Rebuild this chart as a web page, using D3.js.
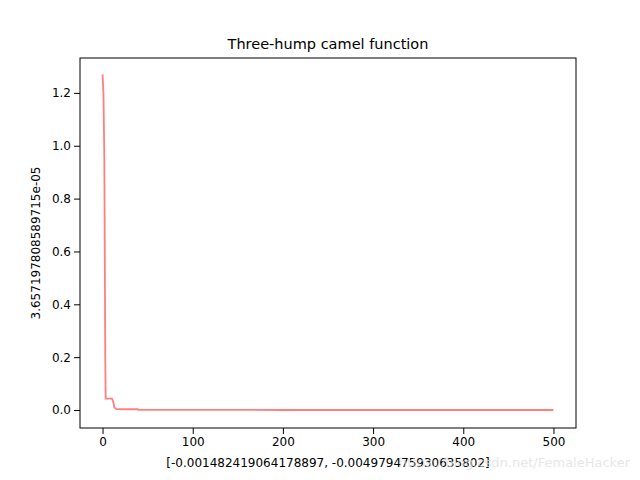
<!DOCTYPE html>
<html><head><meta charset="utf-8">
<script src="https://cdn.jsdelivr.net/npm/d3@7"></script>
<style>body{margin:0;background:#fff}text{font-family:"DejaVu Sans",sans-serif}</style>
</head><body><div id="chart"></div>
<script>
let iterX = [0,1,2,3,3.5,5,8,10.5,12,13,15,20,39,40,100,200,300,400,500]
let fitness = [1.27,1.2,0.95,0.2,0.043,0.043,0.043,0.043,0.03,0.01,0.004,0.003,0.003,0.0005,0.0003,0.0002,0.0001,0.0001,0.0001]

let width = 640, height = 480
let margin = {top:58, right:64, bottom:52, left:80}

let svg = d3.select('#chart').append('svg')
    .attr('width', width).attr('height', height)

let x = d3.scaleLinear().domain([-25, 525]).range([margin.left, width-margin.right])
let y = d3.scaleLinear().domain([-0.068, 1.332]).range([height-margin.bottom, margin.top])

svg.append('g')
    .attr('transform', "translate(0,"+(height-margin.bottom)+")")
    .call(d3.axisBottom(x).tickValues([0,100,200,300,400,500]).tickSizeOuter(0))
svg.append('g')
    .attr('transform', "translate("+margin.left+",0)")
    .call(d3.axisLeft(y).tickValues([0,0.2,0.4,0.6,0.8,1.0,1.2]).tickFormat(d3.format('.1f')).tickSizeOuter(0))
svg.selectAll('.tick text').attr('font-size', 12).attr('fill', '#000')
svg.selectAll('.tick line').attr('stroke', '#000')
svg.selectAll('.domain').remove()

svg.append('rect')
    .attr('x', margin.left).attr('y', margin.top)
    .attr('width', width-margin.left-margin.right).attr('height', height-margin.top-margin.bottom)
    .attr('fill', 'none').attr('stroke', '#000')

svg.append('path')
    .datum(iterX.map((d,i) => [d, fitness[i]]))
    .attr('fill', 'none').attr('stroke', '#ff7f7f').attr('stroke-width', 1.8)
    .attr('d', d3.line().x(d => x(d[0])).y(d => y(d[1])))

svg.append('text').attr('x', (margin.left+width-margin.right)/2).attr('y', 49)
    .attr('text-anchor', 'middle').attr('font-size', 14.5).text('Three-hump camel function')
svg.append('text').attr('x', 328).attr('y', 467)
    .attr('text-anchor', 'middle').attr('font-size', 12).text('[-0.001482419064178897, -0.004979475930635802]')
svg.append('text').attr('transform', 'translate(40,243) rotate(-90)')
    .attr('text-anchor', 'middle').attr('font-size', 12).text('3.657197808589715e-05')
svg.append('text').attr('x', 630).attr('y', 467).attr('text-anchor', 'end')
    .attr('font-size', 13).attr('fill', '#ddd').attr('opacity', 0.7).text('https://blog.csdn.net/FemaleHacker')
</script></body></html>
